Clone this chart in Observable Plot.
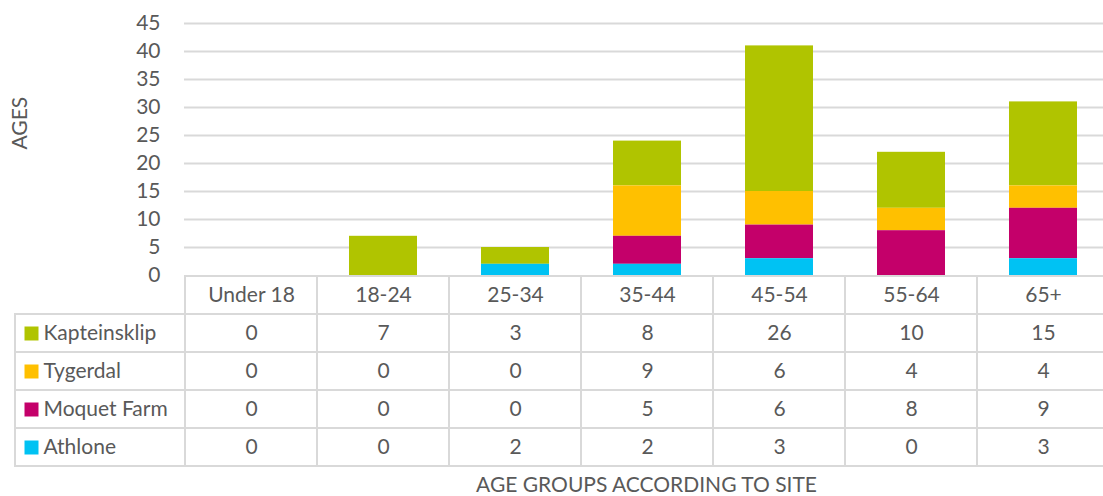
<!DOCTYPE html>
<html>
<head>
<meta charset="utf-8">
<script src="https://cdn.jsdelivr.net/npm/d3@7"></script>
<script src="https://cdn.jsdelivr.net/npm/@observablehq/plot@0.6"></script>
<style>
  html, body { margin: 0; padding: 0; background: #fff; overflow: hidden; }
  #wrap { position: relative; width: 1103px; height: 496px; }
  #xtitle { position: absolute; left: 184px; width: 925px; top: 470px; text-align: center; line-height: 28px;
    font-family: "Lato", sans-serif; font-size: 21px; color: #595959; }
</style>
</head>
<body>
<div id="wrap"><div id="chart"></div><div id="xtitle">AGE GROUPS ACCORDING TO SITE</div></div>
<script>
const categories = ["Under 18", "18-24", "25-34", "35-44", "45-54", "55-64", "65+"];
const seriesNames = ["Kapteinsklip", "Tygerdal", "Moquet Farm", "Athlone"];
const kapteinsklip = [0, 7, 3, 8, 26, 10, 15];
const tygerdal = [0, 0, 0, 9, 6, 4, 4];
const moquetFarm = [0, 0, 0, 5, 6, 8, 9];
const athlone = [0, 0, 2, 2, 3, 0, 3];
const seriesColors = ["#B0C400", "#FFC000", "#C4006A", "#00C2F3"];
const yTicks = [0, 5, 10, 15, 20, 25, 30, 35, 40, 45];
const yLabel = "AGES";

const seriesValues = {"Kapteinsklip": kapteinsklip, "Tygerdal": tygerdal, "Moquet Farm": moquetFarm, "Athlone": athlone};
const rows = [];
for (const s of seriesNames) categories.forEach((c, i) => rows.push({series: s, category: c, value: seriesValues[s][i]}));
const stackOrder = seriesNames.slice().reverse();

const FS = 21;
const font = {fontFamily: "Lato, sans-serif", fontSize: FS + "px", color: "#595959", overflow: "visible"};
const grid = "#d9d9d9";
const xRange = [184, 1109];

const chart = Plot.plot({
  width: 1103, height: 275,
  marginLeft: 184, marginRight: -6, marginTop: 23, marginBottom: 0,
  style: font,
  x: {type: "band", domain: categories, range: xRange, paddingInner: 0.485, paddingOuter: 0.2425, axis: null},
  y: {domain: [0, 45], range: [275, 23], axis: null},
  color: {domain: seriesNames, range: seriesColors},
  marks: [
    Plot.gridY(yTicks.filter(t => t > 0), {stroke: grid, strokeOpacity: 1, strokeWidth: 2}),
    Plot.axisY(yTicks, {tickSize: 0, tickPadding: 24, label: null, fontSize: FS}),
    Plot.text([yLabel], {frameAnchor: "left", dx: -164, rotate: -90, fontSize: FS}),
    Plot.barY(rows, Plot.stackY({order: stackOrder}, {x: "category", y: "value", fill: "series"}))
  ]
});

const headerKey = " ";
const cellRows = [headerKey, ...seriesNames];
const gridCells = [];
for (const r of cellRows) for (const c of categories) gridCells.push({row: r, category: c});

const table = Plot.plot({
  width: 1103, height: 193,
  marginLeft: 15, marginRight: -6, marginTop: 1, marginBottom: 2,
  style: {...font, background: "transparent"},
  x: {type: "band", domain: categories, range: xRange, padding: 0, axis: null},
  y: {type: "band", domain: cellRows, range: [1, 191], padding: 0, axis: null},
  color: {domain: seriesNames, range: seriesColors},
  marks: [
    Plot.cell(seriesNames, {y: d => d, fill: "none", stroke: grid, strokeWidth: 2, inset: 0}),
    Plot.cell(gridCells, {x: "category", y: "row", fill: "none", stroke: grid, strokeWidth: 2, inset: 0}),
    Plot.text(categories, {x: d => d, y: () => headerKey, text: d => d, fontSize: FS}),
    Plot.text(rows, {x: "category", y: "series", text: d => String(d.value), fontSize: FS}),
    Plot.dot(seriesNames, {y: d => d, frameAnchor: "left", dx: 16, symbol: "square", r: 7.9, fill: d => d, stroke: null}),
    Plot.text(seriesNames, {y: d => d, text: d => d, frameAnchor: "left", dx: 28, textAnchor: "start", fontSize: FS})
  ]
});

const el = document.getElementById("chart");
el.appendChild(chart);
el.appendChild(table);
</script>
</body>
</html>
